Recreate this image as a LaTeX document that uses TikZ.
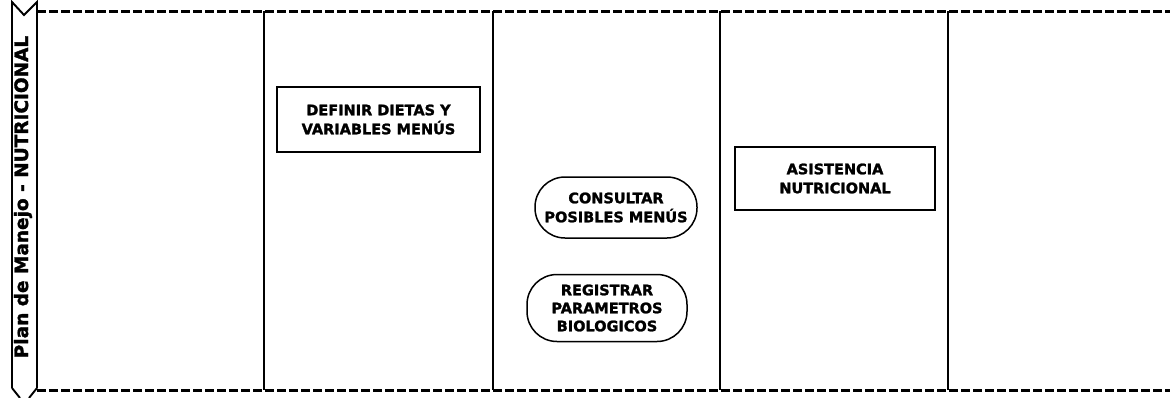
\documentclass[tikz,border=0pt]{standalone}
\usepackage{fontspec}
\setmainfont{DejaVu Sans}[BoldFeatures={FakeBold=1.6}]
\begin{document}
\begin{tikzpicture}[x=1pt,y=-1pt,
  lane/.style={line width=1.9pt},
  border/.style={line width=3pt, dash pattern=on 8.5pt off 3.5pt},
  procbox/.style={draw, line width=1.9pt, inner sep=0pt, align=center,
    font=\bfseries\fontsize{14.5}{19}\selectfont},
  termbox/.style={procbox, line width=1.5pt, rounded corners=30pt},
  hdrtext/.style={font=\bfseries\fontsize{18.5}{20}\selectfont, rotate=90}
]
\useasboundingbox (0,0) rectangle (1170,397);
\begin{scope}
\clip (0,0) rectangle (1170,397);
% lane header (chevron strip)
\draw[line width=1.9pt, line join=miter]
  (37,388) -- (37,2) -- (24,15) -- (12,2) -- (12,388);
\draw[line width=1.9pt] (12,388) -- (20,398);
\draw[line width=1.9pt] (37,388) -- (29,398);
\node[hdrtext] (hdr) at (23,197) {Plan de Manejo - NUTRICIONAL};
% borders
\coordinate (tl) at (37,11);
\coordinate (tr) at (1170,11);
\coordinate (bl) at (37,390);
\coordinate (br) at (1170,390);
\draw[border] (tl) -- (tr);
\draw[border] (bl) -- (br);
% lane separators
\foreach \x/\n in {264/a,493/b,720/c,948/d}{
  \coordinate (top\n) at (\x,11);
  \coordinate (bot\n) at (\x,390);
  \draw[lane] (top\n) -- (bot\n);
}
\end{scope}
% activities
\node[procbox, minimum width=203pt, minimum height=65pt] (def) at (378.5,119.5)
  {DEFINIR DIETAS Y\\VARIABLES MENÚS};
\node[procbox, minimum width=200pt, minimum height=63pt] (asis) at (835,178.5)
  {ASISTENCIA\\NUTRICIONAL};
\node[termbox, minimum width=162pt, minimum height=61pt] (cons) at (616,207.5)
  {CONSULTAR\\POSIBLES MENÚS};
\node[termbox, minimum width=160pt, minimum height=67pt, font=\bfseries\fontsize{14.5}{18}\selectfont] (reg) at (607,308)
  {REGISTRAR\\PARAMETROS\\BIOLOGICOS};
\end{tikzpicture}
\end{document}
